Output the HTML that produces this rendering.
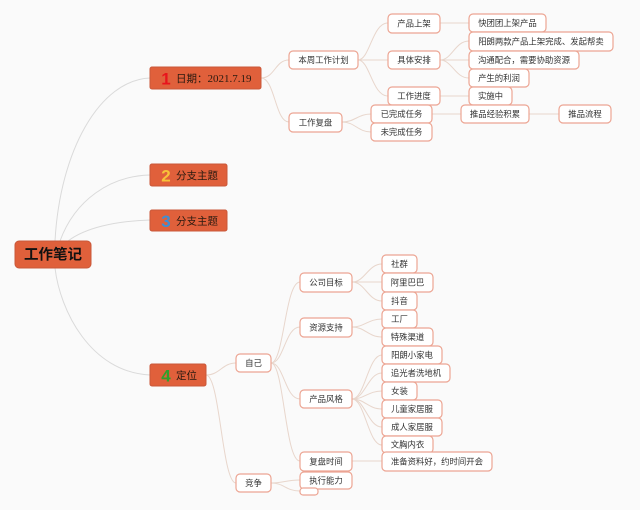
<!DOCTYPE html>
<html><head><meta charset="utf-8"><style>
html,body{margin:0;padding:0;background:#fafafa;}
svg{display:block;}
text{font-family:"Liberation Sans","Noto Sans CJK SC",sans-serif;}
.lf rect{fill:#fff;stroke:#eca593;stroke-width:1.2;}
.lf text{font-size:8.4px;fill:#333;text-anchor:middle;}
.e{fill:none;stroke:#e8d6cc;stroke-width:1;}
.r{fill:none;stroke:#dadada;stroke-width:1;}
.m rect{fill:#e0603b;stroke:#c9583a;stroke-width:1;}
.m .t{font-size:10.5px;fill:#2a1a10;}
.m .n{font-size:17px;font-weight:bold;text-anchor:middle;}
</style></head><body>
<svg width="640" height="510" viewBox="0 0 640 510" xmlns="http://www.w3.org/2000/svg">
<rect width="640" height="510" fill="#fafafa"/>
<!-- root edges -->
<path class="r" d="M55 241 C60 150,100 80,150 78"/>
<path class="r" d="M60 241 C75 200,110 176,150 175"/>
<path class="r" d="M68 241 C85 228,115 221,150 220"/>
<path class="r" d="M55 268 C60 310,90 372,150 375"/>
<!-- edges -->
<g>
<path class="e" d="M261 78 C275 78,275 60,289 60"/>
<path class="e" d="M261 78 C275 78,275 122,289 122"/>
<path class="e" d="M358 60 C370 60,372 23,388 23"/>
<path class="e" d="M358 60 L388 60"/>
<path class="e" d="M358 60 C370 60,372 96,388 96"/>
<path class="e" d="M342 122 C355 122,358 114,371 114"/>
<path class="e" d="M342 122 C355 122,358 132,371 132"/>
<path class="e" d="M440 23 L469 23"/>
<path class="e" d="M440 60 C452 60,455 41,469 41"/>
<path class="e" d="M440 60 L469 60"/>
<path class="e" d="M440 60 C452 60,455 78,469 78"/>
<path class="e" d="M440 96 L469 96"/>
<path class="e" d="M432 114 L461 114"/>
<path class="e" d="M529 114 L559 114"/>
<path class="e" d="M206 375 C220 375,222 363,236 363"/>
<path class="e" d="M206 375 C220 375,222 483,236 483"/>
<path class="e" d="M271 363 C284 363,285 282,300 282"/>
<path class="e" d="M271 363 C284 363,285 327,300 327"/>
<path class="e" d="M271 363 C284 363,285 399,300 399"/>
<path class="e" d="M271 363 C284 363,285 461,300 461"/>
<path class="e" d="M271 483 C284 483,286 480,300 480"/>
<path class="e" d="M271 483 C284 483,286 491,300 491"/>
<path class="e" d="M352 282 C365 282,368 264,382 264"/>
<path class="e" d="M352 282 L382 282"/>
<path class="e" d="M352 282 C365 282,368 301,382 301"/>
<path class="e" d="M352 327 C365 327,368 319,382 319"/>
<path class="e" d="M352 327 C365 327,368 337,382 337"/>
<path class="e" d="M352 399 C365 399,368 355,382 355"/>
<path class="e" d="M352 399 C365 399,368 373,382 373"/>
<path class="e" d="M352 399 C365 399,368 391,382 391"/>
<path class="e" d="M352 399 C365 399,368 409,382 409"/>
<path class="e" d="M352 399 C365 399,368 427,382 427"/>
<path class="e" d="M352 399 C365 399,368 445,382 445"/>
<path class="e" d="M352 461 L382 461"/>
</g>
<!-- root -->
<rect x="15" y="241" width="76" height="27" rx="4" fill="#e0603b" stroke="#c9583a"/>
<text x="53" y="259.5" font-size="14.5" font-weight="bold" fill="#111" text-anchor="middle">工作笔记</text>
<!-- main topics -->
<g class="m">
<rect x="150" y="67" width="111" height="22" rx="2"/>
<text class="n" x="166" y="84.5" fill="#e8141c">1</text>
<text class="t" x="176" y="82">日期：<tspan font-family="Liberation Serif" font-size="11">2021.7.19</tspan></text>
<rect x="150" y="164" width="77" height="22" rx="2"/>
<text class="n" x="166" y="181.5" fill="#f8c23a">2</text>
<text class="t" x="176" y="179">分支主题</text>
<rect x="150" y="210" width="77" height="21" rx="2"/>
<text class="n" x="166" y="227" fill="#3d8fd6">3</text>
<text class="t" x="176" y="224.5">分支主题</text>
<rect x="150" y="364" width="56" height="22" rx="2"/>
<text class="n" x="166" y="381.5" fill="#2fa12b">4</text>
<text class="t" x="176" y="379">定位</text>
</g>
<!-- leaves -->
<g class="lf">
<rect x="289" y="51" width="69" height="18" rx="4"/><text x="323.5" y="63">本周工作计划</text>
<rect x="289" y="113" width="53" height="19" rx="4"/><text x="315.5" y="125.5">工作复盘</text>
<rect x="388" y="14" width="52" height="19" rx="4"/><text x="414" y="26.5">产品上架</text>
<rect x="388" y="51" width="52" height="18" rx="4"/><text x="414" y="63">具体安排</text>
<rect x="388" y="87" width="52" height="18" rx="4"/><text x="414" y="99">工作进度</text>
<rect x="371" y="105" width="61" height="18" rx="4"/><text x="401.5" y="117">已完成任务</text>
<rect x="371" y="123" width="61" height="18" rx="4"/><text x="401.5" y="135">未完成任务</text>
<rect x="469" y="14" width="77" height="18" rx="4"/><text x="507.5" y="26">快团团上架产品</text>
<rect x="469" y="32" width="144" height="19" rx="4"/><text x="541" y="44.5">阳朗两款产品上架完成、发起帮卖</text>
<rect x="469" y="51" width="110" height="18" rx="4"/><text x="524" y="63">沟通配合，需要协助资源</text>
<rect x="469" y="69" width="60" height="18" rx="4"/><text x="499" y="81">产生的利润</text>
<rect x="469" y="87" width="43" height="18" rx="4"/><text x="490.5" y="99">实施中</text>
<rect x="461" y="105" width="68" height="18" rx="4"/><text x="495" y="117">推品经验积累</text>
<rect x="559" y="105" width="52" height="18" rx="4"/><text x="585" y="117">推品流程</text>

<rect x="300" y="273" width="52" height="19" rx="4"/><text x="326" y="285.5">公司目标</text>
<rect x="300" y="318" width="52" height="19" rx="4"/><text x="326" y="330.5">资源支持</text>
<rect x="236" y="354" width="35" height="18" rx="4"/><text x="253.5" y="366">自己</text>
<rect x="300" y="390" width="52" height="18" rx="4"/><text x="326" y="402">产品风格</text>
<rect x="300" y="452" width="52" height="19" rx="4"/><text x="326" y="464.5">复盘时间</text>
<rect x="236" y="474" width="35" height="18" rx="4"/><text x="253.5" y="486">竞争</text>
<rect x="300" y="472" width="52" height="17" rx="4"/><text x="326" y="483.5">执行能力</text>
<rect x="300" y="488" width="18" height="7" rx="3"/>

<rect x="382" y="255" width="35" height="18" rx="4"/><text x="399.5" y="267">社群</text>
<rect x="382" y="273" width="51" height="19" rx="4"/><text x="407.5" y="285.5">阿里巴巴</text>
<rect x="382" y="292" width="35" height="18" rx="4"/><text x="399.5" y="304">抖音</text>
<rect x="382" y="310" width="35" height="18" rx="4"/><text x="399.5" y="322">工厂</text>
<rect x="382" y="328" width="51" height="18" rx="4"/><text x="407.5" y="340">特殊渠道</text>
<rect x="382" y="346" width="60" height="18" rx="4"/><text x="412" y="358">阳朗小家电</text>
<rect x="382" y="364" width="68" height="18" rx="4"/><text x="416" y="376">追光者洗地机</text>
<rect x="382" y="382" width="35" height="18" rx="4"/><text x="399.5" y="394">女装</text>
<rect x="382" y="400" width="60" height="18" rx="4"/><text x="412" y="412">儿童家居服</text>
<rect x="382" y="418" width="60" height="18" rx="4"/><text x="412" y="430">成人家居服</text>
<rect x="382" y="436" width="51" height="17" rx="4"/><text x="407.5" y="447.5">文胸内衣</text>
<rect x="382" y="452" width="110" height="19" rx="4"/><text x="437" y="464.5">准备资料好，约时间开会</text>
</g>
</svg>
</body></html>
